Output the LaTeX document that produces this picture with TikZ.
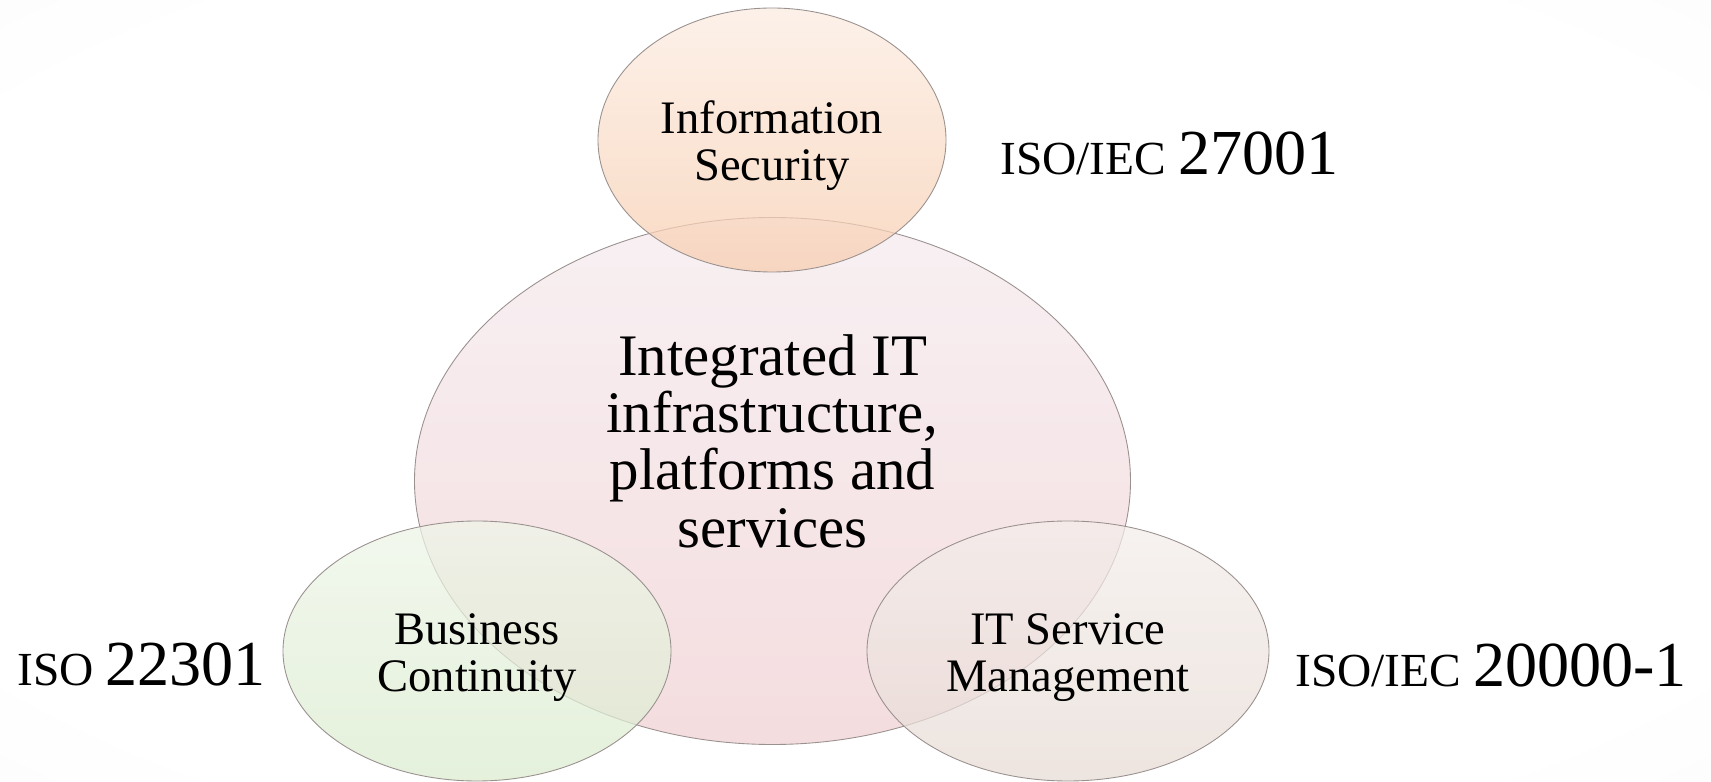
\documentclass[tikz,border=0pt]{standalone}
\usepackage{fontspec}
\setmainfont{Liberation Serif}
\usepackage{tikz}
\usetikzlibrary{shapes.geometric}
\definecolor{rimcol}{HTML}{9A918F}
\definecolor{infraTop}{HTML}{F5EBEE}
\definecolor{infraBot}{HTML}{F1D0D3}
\definecolor{secTop}{HTML}{FCECE1}
\definecolor{secBot}{HTML}{F8CDAF}
\definecolor{contTop}{HTML}{EEF5E8}
\definecolor{contBot}{HTML}{DBECCE}
\definecolor{itsmTop}{HTML}{F4EEEB}
\definecolor{itsmBot}{HTML}{E7DBD4}
\pgfdeclareradialshading{pageglow}{\pgfpoint{0bp}{0bp}}{color(0bp)=(white);
  color(30bp)=(white); color(58bp)=(black!4); color(72bp)=(black!7)}
\newcommand{\stdlabel}[2]{#1 {\fontsize{36.5pt}{40pt}\selectfont #2}}
\tikzset{
  bubble/.style 2 args={ellipse, draw=rimcol, line width=0.5pt,
    top color=#1, bottom color=#2, fill opacity=0.72, inner sep=0pt},
  areatext/.style={align=center, inner sep=0pt,
    font=\fontsize{26.5pt}{26.9pt}\selectfont},
  coretext/.style={align=center, inner sep=0pt,
    font=\fontsize{33.5pt}{32.6pt}\selectfont},
  stdname/.style={anchor=base west, inner sep=0pt,
    font=\fontsize{27pt}{30pt}\selectfont}}

\begin{document}
\begin{tikzpicture}
  \useasboundingbox (0,0) rectangle (34.22,15.64);
  \shade[shading=pageglow] (0,0) rectangle (34.22,15.64);
  % the shared platform in the middle, three areas around it
  \node[bubble={infraTop}{infraBot}, minimum width=14.32cm, minimum height=10.54cm]
    (itinfra) at (15.45,6.02) {};
  \node[bubble={secTop}{secBot}, minimum width=6.96cm, minimum height=5.28cm]
    (infosec) at (15.44,12.84) {};
  \node[bubble={contTop}{contBot}, minimum width=7.76cm, minimum height=5.2cm]
    (buscont) at (9.54,2.62) {};
  \node[bubble={itsmTop}{itsmBot}, minimum width=8.04cm, minimum height=5.2cm]
    (itsm) at (21.36,2.62) {};
  \node[coretext] (infratext) at ([yshift=8mm]itinfra.center)
    {Integrated IT\\ infrastructure,\\ platforms and\\ services};
  \node[areatext] (infosectext) at ([yshift=-1.2mm]infosec.center)
    {Information\\ Security};
  \node[areatext] (buscontext) at ([yshift=-1.3mm]buscont.center)
    {Business\\ Continuity};
  \node[areatext] (itsmtext) at ([yshift=-1.3mm]itsm.center)
    {IT Service\\ Management};
  % standards next to each area
  \node[stdname] (iso27001) at (20.00,12.14) {\stdlabel{ISO/IEC}{27001}};
  \node[stdname] (iso22301) at (0.34,1.92) {\stdlabel{ISO}{22301}};
  \node[stdname] (iso20000) at (25.90,1.90) {\stdlabel{ISO/IEC}{20000-1}};
\end{tikzpicture}
\end{document}
